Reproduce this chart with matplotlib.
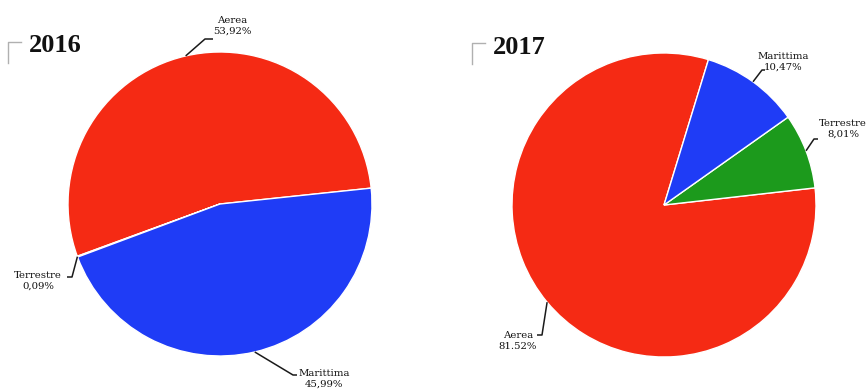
import numpy as np
import matplotlib
matplotlib.use("Agg")
import matplotlib.pyplot as plt

# share of transport mode per year
modes = ["Aerea", "Terrestre", "Marittima"]
share_2016 = [53.92, 0.09, 45.99]
share_2017 = [81.52, 8.01, 10.47]
labels_2016 = ["53,92%", "0,09%", "45,99%"]
labels_2017 = ["81.52%", "8,01%", "10,47%"]
colors = ["#f52a14", "#1c9a1c", "#1f3cf6"]

W, H = 867, 390
fig = plt.figure(figsize=(W / 100, H / 100), dpi=100)
ax = fig.add_axes([0, 0, 1, 1])


def py(y):
    # pixel rows are counted from the top
    return H - y


def draw_pie(values, texts, cx, cy, r, start, year, title_xy, callouts):
    wedges, _ = ax.pie(values, colors=colors, startangle=start, counterclock=True,
                       center=(cx, py(cy)), radius=r,
                       wedgeprops=dict(edgecolor="white", linewidth=1.0))
    for w, name, txt, (elbow, end, txy) in zip(wedges, modes, texts, callouts):
        mid = np.deg2rad((w.theta1 + w.theta2) / 2)
        sx, sy = cx + r * np.cos(mid), py(cy) + r * np.sin(mid)
        ax.plot([sx, elbow[0], end], [sy, py(elbow[1]), py(elbow[1])],
                color="#1a1a1a", lw=1.1, solid_capstyle="butt")
        ax.text(txy[0], py(txy[1]), name + "\n" + txt, ha="center", va="center",
                fontsize=7.3, family="DejaVu Serif", color="#111111", linespacing=1.3)
    tx, ty = title_xy
    ax.plot([tx, tx, tx + 13], [py(ty + 21), py(ty), py(ty)], color="#b0b0b0", lw=1.0)
    ax.text(tx + 21, py(ty + 4), year, fontsize=19, fontweight="bold",
            family="Liberation Serif", ha="left", va="center", color="#111111")


draw_pie(share_2016, labels_2016, 220, 204, 152, 6, "2016", (8, 42),
         [((205, 39), 213, (232, 26)),
          ((72, 277), 67, (38, 281)),
          ((293, 375), 297, (324, 379))])
draw_pie(share_2017, labels_2017, 664, 205, 152, 73, "2017", (472, 43),
         [((542, 335), 537, (518, 341)),
          ((814, 139), 818, (843, 129)),
          ((762, 70), 765, (783, 62))])

ax.set_xlim(0, W)
ax.set_ylim(0, H)
ax.set_aspect("equal")
ax.axis("off")
fig.savefig("out.png", dpi=100, facecolor="white")
